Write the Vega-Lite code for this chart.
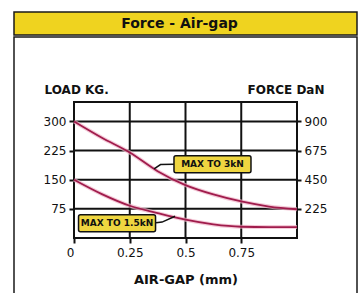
{
  "$schema": "https://vega.github.io/schema/vega-lite/v6.json",
  "background": "white",
  "padding": {"left": 13, "top": 11, "right": 0, "bottom": 0},
  "spacing": 0,
  "config": {"font": "DejaVu Sans", "concat": {"spacing": 0}},
  "datasets": {
    "curves": [
      {"series": "MAX TO 3kN", "gap": 0, "load": 300},
      {"series": "MAX TO 3kN", "gap": 0.125, "load": 258},
      {"series": "MAX TO 3kN", "gap": 0.25, "load": 220},
      {"series": "MAX TO 3kN", "gap": 0.375, "load": 172},
      {"series": "MAX TO 3kN", "gap": 0.5, "load": 136},
      {"series": "MAX TO 3kN", "gap": 0.625, "load": 112},
      {"series": "MAX TO 3kN", "gap": 0.75, "load": 94},
      {"series": "MAX TO 3kN", "gap": 0.875, "load": 81},
      {"series": "MAX TO 3kN", "gap": 1.0, "load": 74},
      {"series": "MAX TO 1.5kN", "gap": 0, "load": 150},
      {"series": "MAX TO 1.5kN", "gap": 0.125, "load": 113},
      {"series": "MAX TO 1.5kN", "gap": 0.25, "load": 83},
      {"series": "MAX TO 1.5kN", "gap": 0.375, "load": 64},
      {"series": "MAX TO 1.5kN", "gap": 0.5, "load": 47},
      {"series": "MAX TO 1.5kN", "gap": 0.625, "load": 35},
      {"series": "MAX TO 1.5kN", "gap": 0.75, "load": 29},
      {"series": "MAX TO 1.5kN", "gap": 0.875, "load": 28},
      {"series": "MAX TO 1.5kN", "gap": 1.0, "load": 28}
    ],
    "leaders": [
      {"id": "a", "gap": 0.359, "load": 178},
      {"id": "a", "gap": 0.388, "load": 189},
      {"id": "a", "gap": 0.448, "load": 190},
      {"id": "b", "gap": 0.368, "load": 39},
      {"id": "b", "gap": 0.395, "load": 41},
      {"id": "b", "gap": 0.453, "load": 56}
    ],
    "notes": [
      {"label": "MAX TO 3kN", "gap": 0.621, "load": 190},
      {"label": "MAX TO 1.5kN", "gap": 0.193, "load": 38}
    ],
    "grid": [
      {"line": "x0", "gap": 0, "load": 0}, {"line": "x0", "gap": 0, "load": 350},
      {"line": "x25", "gap": 0.25, "load": 0}, {"line": "x25", "gap": 0.25, "load": 350},
      {"line": "x50", "gap": 0.5, "load": 0}, {"line": "x50", "gap": 0.5, "load": 350},
      {"line": "x75", "gap": 0.75, "load": 0}, {"line": "x75", "gap": 0.75, "load": 350},
      {"line": "x100", "gap": 1, "load": 0}, {"line": "x100", "gap": 1, "load": 350},
      {"line": "y0", "gap": 0, "load": 0}, {"line": "y0", "gap": 1, "load": 0},
      {"line": "y75", "gap": 0, "load": 75}, {"line": "y75", "gap": 1, "load": 75},
      {"line": "y150", "gap": 0, "load": 150}, {"line": "y150", "gap": 1, "load": 150},
      {"line": "y225", "gap": 0, "load": 225}, {"line": "y225", "gap": 1, "load": 225},
      {"line": "y300", "gap": 0, "load": 300}, {"line": "y300", "gap": 1, "load": 300},
      {"line": "y350", "gap": 0, "load": 350}, {"line": "y350", "gap": 1, "load": 350}
    ]
  },
  "vconcat": [
    {
      "width": 343,
      "height": 23,
      "view": {"fill": "#efd31f", "stroke": "#1a1a1a", "strokeWidth": 1.5},
      "data": {"values": [{"title": "Force - Air-gap"}]},
      "mark": {"type": "text", "font": "DejaVu Sans", "fontSize": 14, "fontWeight": "bold", "color": "#111", "dx": -6, "baseline": "middle"},
      "encoding": {"text": {"field": "title"}}
    },
    {
      "width": 343,
      "height": 260,
      "view": {"stroke": "#1a1a1a", "strokeWidth": 1.5},
      "resolve": {"axis": {"y": "independent"}},
      "layer": [
        {
          "data": {"name": "grid"},
          "mark": {"type": "line", "color": "#111", "strokeWidth": 2, "strokeCap": "square"},
          "encoding": {
            "x": {"field": "gap", "type": "quantitative", "scale": {"domain": [0, 1], "range": [60, 283], "nice": false}},
            "y": {
              "field": "load", "type": "quantitative",
              "scale": {"domain": [0, 350], "range": [201, 65], "nice": false},
              "axis": {
                "orient": "right", "offset": -60, "values": [75, 150, 225, 300],
                "labelExpr": "'' + (datum.value * 3)",
                "domain": false, "grid": false,
                "tickSize": 4, "tickWidth": 2, "tickColor": "#111",
                "labelPadding": 3, "labelFont": "DejaVu Sans", "labelFontSize": 12, "labelColor": "#111",
                "labelOverlap": false, "labelBound": false, "labelFlush": false,
                "title": "FORCE DaN", "titleAngle": 0, "titleFont": "DejaVu Sans", "titleFontSize": 12, "titleFontWeight": "bold", "titleColor": "#111",
                "titleX": 27, "titleY": 56, "titleAlign": "right", "titleBaseline": "alphabetic"
              }
            },
            "detail": {"field": "line"}
          }
        },
        {
          "data": {"name": "curves"},
          "mark": {"type": "line", "color": "#f0b4c8", "strokeWidth": 4, "opacity": 0.7, "interpolate": "monotone"},
          "encoding": {
            "x": {"field": "gap", "type": "quantitative", "scale": {"domain": [0, 1], "range": [60, 283], "nice": false}},
            "y": {"field": "load", "type": "quantitative", "axis": null, "scale": {"domain": [0, 350], "range": [201, 65], "nice": false}},
            "detail": {"field": "series"}
          }
        },
        {
          "data": {"name": "curves"},
          "mark": {"type": "line", "color": "#a01c4c", "strokeWidth": 1.8, "interpolate": "monotone"},
          "encoding": {
            "x": {
              "field": "gap", "type": "quantitative",
              "scale": {"domain": [0, 1], "range": [60, 283], "nice": false},
              "axis": {
                "orient": "bottom", "offset": -59, "values": [0, 0.25, 0.5, 0.75],
                "labelExpr": "'' + datum.value",
                "domain": false, "grid": false,
                "tickSize": 5, "tickWidth": 2, "tickColor": "#111",
                "labelPadding": 4, "labelFont": "DejaVu Sans", "labelFontSize": 12, "labelColor": "#111",
                "labelAlign": {"condition": {"test": "datum.value == 0", "value": "right"}, "value": "center"},
                "labelOverlap": false, "labelBound": false, "labelFlush": false,
                "title": "AIR-GAP (mm)", "titleFont": "DejaVu Sans", "titleFontSize": 13, "titleFontWeight": "bold", "titleColor": "#111",
                "titlePadding": 15
              }
            },
            "y": {
              "field": "load", "type": "quantitative",
              "scale": {"domain": [0, 350], "range": [201, 65], "nice": false},
              "axis": {
                "orient": "left", "offset": -60, "values": [75, 150, 225, 300],
                "domain": false, "grid": false,
                "tickSize": 5, "tickWidth": 2, "tickColor": "#111",
                "labelPadding": 3, "labelFont": "DejaVu Sans", "labelFontSize": 12, "labelColor": "#111",
                "labelOverlap": false, "labelBound": false, "labelFlush": false,
                "title": "LOAD KG.", "titleAngle": 0, "titleFont": "DejaVu Sans", "titleFontSize": 12, "titleFontWeight": "bold", "titleColor": "#111",
                "titleX": -30, "titleY": 56, "titleAlign": "left", "titleBaseline": "alphabetic"
              }
            },
            "detail": {"field": "series"}
          }
        },
        {
          "data": {"name": "leaders"},
          "mark": {"type": "line", "color": "#111", "strokeWidth": 1.5},
          "encoding": {
            "x": {"field": "gap", "type": "quantitative", "scale": {"domain": [0, 1], "range": [60, 283], "nice": false}},
            "y": {"field": "load", "type": "quantitative", "axis": null, "scale": {"domain": [0, 350], "range": [201, 65], "nice": false}},
            "detail": {"field": "id"}
          }
        },
        {
          "data": {"name": "notes"},
          "mark": {
            "type": "point", "filled": true, "fill": "#efd640", "stroke": "#111", "strokeWidth": 1.5, "opacity": 1, "size": 5929,
            "shape": "M-0.95,-0.22H0.95Q1,-0.22 1,-0.17V0.17Q1,0.22 0.95,0.22H-0.95Q-1,0.22 -1,0.17V-0.17Q-1,-0.22 -0.95,-0.22Z"
          },
          "encoding": {
            "x": {"field": "gap", "type": "quantitative", "scale": {"domain": [0, 1], "range": [60, 283], "nice": false}},
            "y": {"field": "load", "type": "quantitative", "axis": null, "scale": {"domain": [0, 350], "range": [201, 65], "nice": false}}
          }
        },
        {
          "data": {"name": "notes"},
          "mark": {"type": "text", "font": "DejaVu Sans", "fontSize": 9, "fontWeight": "bold", "color": "#111", "baseline": "middle", "align": "center"},
          "encoding": {
            "x": {"field": "gap", "type": "quantitative", "scale": {"domain": [0, 1], "range": [60, 283], "nice": false}},
            "y": {"field": "load", "type": "quantitative", "axis": null, "scale": {"domain": [0, 350], "range": [201, 65], "nice": false}},
            "text": {"field": "label"}
          }
        }
      ]
    }
  ]
}
